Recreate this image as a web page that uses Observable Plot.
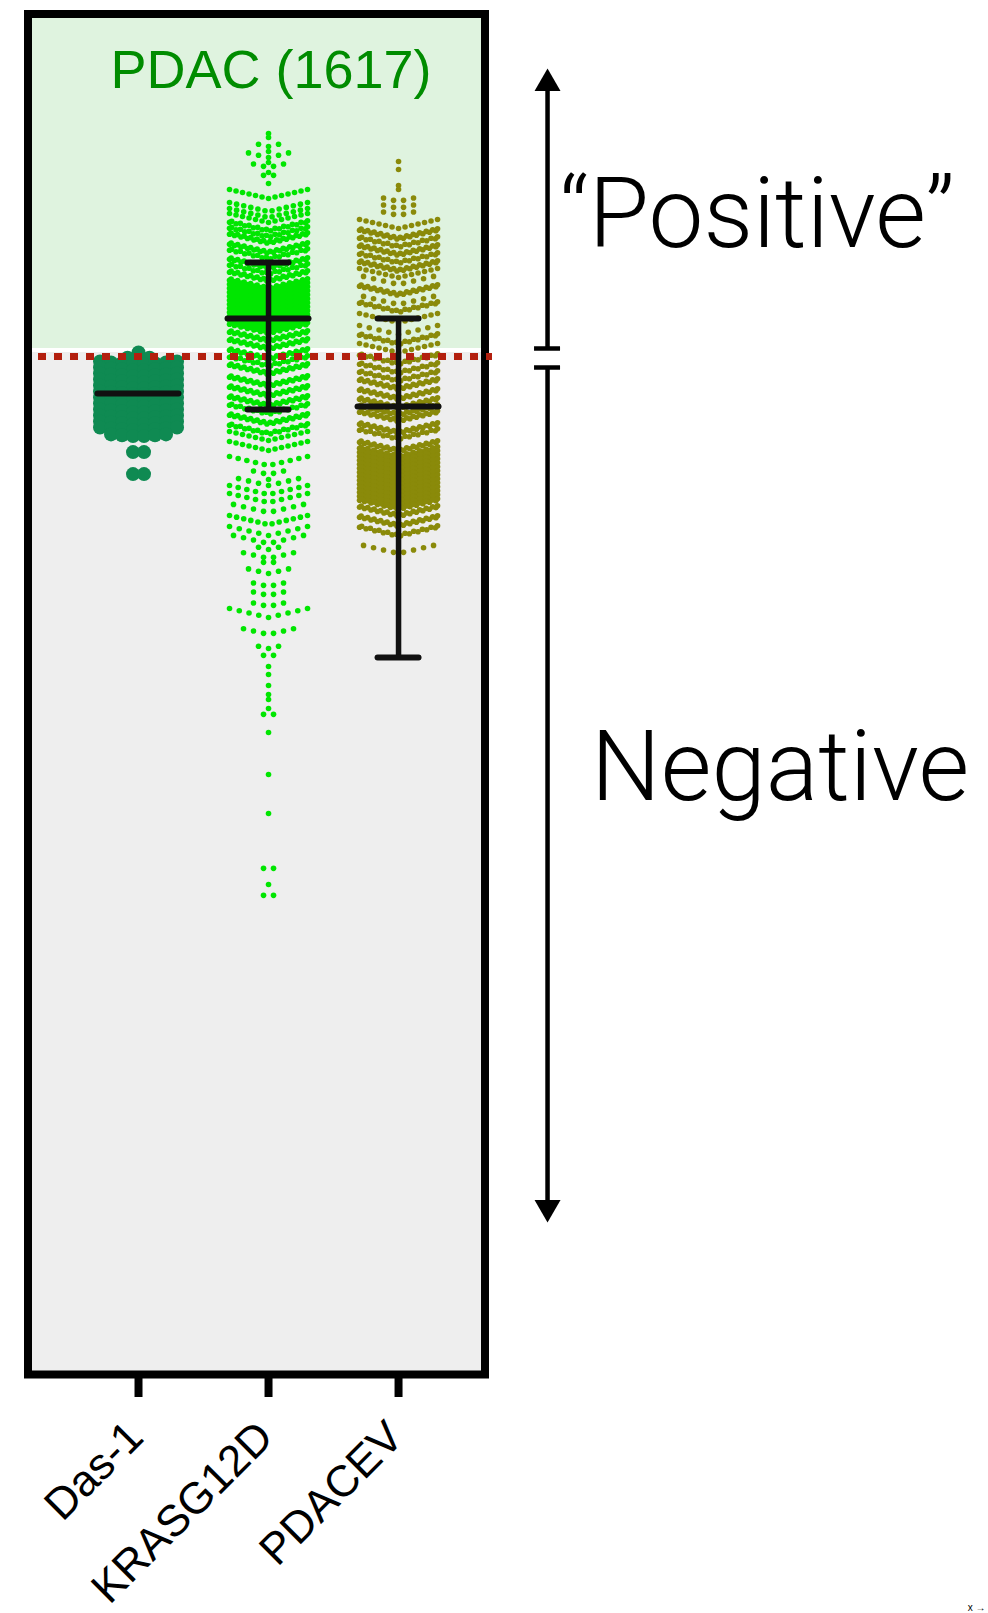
<!DOCTYPE html>
<html>
<head>
<meta charset="utf-8">
<script src="https://cdn.jsdelivr.net/npm/d3@7"></script>
<script src="https://cdn.jsdelivr.net/npm/@observablehq/plot@0.6"></script>
<style>
  html, body { margin: 0; padding: 0; background: #ffffff; }
  #chart svg { display: block; }
</style>
</head>
<body>
<div id="chart"></div>
<script>
// ---------------- DATA ----------------
const categories = ["Das-1", "KRASG12D", "PDACEV"];
const title = "PDAC (1617)";
const threshold = 0; // score cut-off (dotted line)

// dot rows: [score, number of dots in that row]
const das1Rows = [
  [0.4, 1], [-0.2, 3], [-0.8, 8], [-1.4, 8], [-2.0, 8], [-2.6, 8], [-3.2, 8],
  [-3.8, 8], [-4.4, 8], [-5.0, 8], [-5.6, 8], [-6.2, 8], [-6.8, 8], [-7.4, 8],
  [-8.0, 6], [-9.6, 2], [-11.8, 2]
];

const krasRows = [
  [22.3, 1], [21.9, 1], [21.0, 3], [20.5, 1], [19.9, 5], [19.4, 1], [18.9, 4],
  [18.4, 1], [18.0, 2], [17.3, 1],
  [15.8, 13], [14.5, 12], [13.9, 12], [13.4, 13], [12.6, 20], [12.0, 20],
  [11.4, 26], [10.4, 26], [9.8, 20], [8.9, 26], [8.3, 20], [7.6, 26],
  [6.8, 26], [6.4, 26], [6.0, 26], [5.6, 26], [5.2, 26], [4.8, 26], [4.4, 26],
  [4.0, 26], [3.6, 26], [3.2, 26], [2.8, 26], [2.4, 26], [1.6, 26], [0.8, 26],
  [-0.2, 26], [-0.9, 20], [-1.7, 26], [-2.9, 26], [-3.9, 26], [-4.9, 26],
  [-5.7, 20], [-6.7, 26], [-7.7, 20], [-8.4, 13], [-9.4, 13],
  [-10.9, 10], [-11.8, 4], [-12.3, 1], [-12.9, 7], [-13.8, 10], [-14.6, 10],
  [-15.6, 8], [-16.8, 12], [-17.9, 9], [-18.7, 8], [-19.3, 3], [-20.2, 6],
  [-20.7, 2], [-21.7, 5], [-23.0, 4], [-23.9, 4], [-25.0, 4], [-26.1, 9],
  [-27.8, 6], [-29.2, 3], [-30.0, 2], [-31.0, 1], [-31.8, 1], [-32.9, 1],
  [-33.8, 1], [-34.3, 1], [-35.2, 1], [-35.9, 2], [-37.6, 1], [-41.8, 1],
  [-45.7, 1], [-51.3, 2], [-52.8, 1], [-54.0, 2]
];

const pdacevRows = [
  [19.5, 1], [18.7, 1], [17.1, 1], [16.7, 1], [15.5, 4], [14.8, 4], [14.1, 4],
  [12.8, 13], [11.8, 26], [11.0, 20], [10.2, 26], [9.4, 20], [8.6, 26],
  [7.9, 13], [7.2, 8], [6.2, 26], [5.2, 8], [4.5, 20], [3.4, 13], [2.2, 9],
  [1.3, 20], [0.4, 13], [-0.7, 20], [-1.6, 20], [-2.4, 20], [-3.2, 26],
  [-4.2, 26], [-5.1, 26], [-5.8, 26], [-6.4, 26], [-7.6, 26], [-8.2, 20],
  [-9.4, 26], [-10.0, 26], [-10.4, 26], [-10.8, 26], [-11.2, 26], [-11.6, 26],
  [-12.0, 26], [-12.4, 26], [-12.8, 26], [-13.2, 26], [-13.6, 26], [-14.0, 26],
  [-14.4, 26], [-14.8, 26], [-15.2, 26], [-15.9, 26], [-16.9, 26], [-17.9, 20],
  [-19.7, 8]
];

// summary lines (centre line and whiskers)
const centerValues = [-3.7, 3.8, -5.0];
const upperValues = [null, 9.4, 3.8];
const lowerValues = [null, -5.3, -30.1];

// annotation texts
const positiveLabel = "\u201CPositive\u201D";
const negativeLabel = "Negative";

// ---------------- LAYOUT / STYLE ----------------
const plotWidth = 988, plotHeight = 1613;
const marginLeft = 27.5, marginRight = 503.5, marginTop = 13.5, marginBottom = 239;
const xDomain = [0.15, 3.665];
const yDomain = [-101.8, 34.25];
const xPerPx = (xDomain[1] - xDomain[0]) / (plotWidth - marginLeft - marginRight);
const yPerPx = (yDomain[1] - yDomain[0]) / (plotHeight - marginTop - marginBottom);

const swarmStyles = [
  {r: 7,   maxOff: 39, spacing: 11, rise: 3, perRow: 8,  stack: 0,   fill: "#0f8a52"},
  {r: 2.8, maxOff: 39, spacing: 10, rise: 9, perRow: 13, stack: 1.6, fill: "#00e600"},
  {r: 2.8, maxOff: 39, spacing: 10, rise: 9, perRow: 13, stack: 1.6, fill: "#8a8a0a"}
];

// spread each row's dots sideways (Prism-like scatter-dot layout)
function swarm(rows, index, s) {
  const out = [];
  for (const [value, count] of rows) {
    const k = Math.ceil(count / s.perRow);
    let left = count;
    for (let j = 0; j < k; j++) {
      const m = Math.ceil(left / (k - j));
      left -= m;
      const sp = m > 1 ? Math.min(s.spacing, (2 * s.maxOff) / (m - 1)) : 0;
      const shift = k > 1 ? ((j % 2) - 0.5) * sp / 2 : 0;
      const lift = (j - (k - 1) / 2) * s.stack;
      for (let i = 0; i < m; i++) {
        let off = (i - (m - 1) / 2) * sp + shift;
        off = Math.max(-s.maxOff, Math.min(s.maxOff, off));
        out.push({
          x: index + off * xPerPx,
          y: value + (s.rise * Math.abs(off) / s.maxOff + lift) * yPerPx
        });
      }
    }
  }
  return out;
}

const allRows = [das1Rows, krasRows, pdacevRows];
const swarmData = allRows.map((rows, i) => swarm(rows, i + 1, swarmStyles[i]));

const stats = categories.map((c, i) => ({x: i + 1, mid: centerValues[i], hi: upperValues[i], lo: lowerValues[i]}));
const barred = stats.filter(d => d.hi != null);
const capHalf = 20.5 * xPerPx, meanHalf = 40.5 * xPerPx;

// annotation positions (score units / x units)
const annoX = 4.146;
const arrowUp = {tip: 27.3, from: threshold + 0.8};
const arrowDown = {tip: -85.1, from: threshold - 1.1};
const breakHalf = 13 * xPerPx;
const titleItems = [{label: title, x: 2.019, y: 26.9}];
const bigLabels = [
  {label: positiveLabel, x: 4.238, y: 11.0},
  {label: negativeLabel, x: 4.481, y: -44.3}
];

const ink = "#111111";
const lightFont = "'Helvetica Neue', Roboto, Lato, 'Liberation Sans', sans-serif";

const chart = Plot.plot({
  width: plotWidth,
  height: plotHeight,
  marginLeft, marginRight, marginTop, marginBottom,
  x: {type: "linear", domain: xDomain, axis: null},
  y: {type: "linear", domain: yDomain, axis: null},
  style: {fontFamily: "'Liberation Sans', Arial, Helvetica, sans-serif", background: "#ffffff", overflow: "visible"},
  marks: [
    // background zones
    Plot.rect([0], {x1: xDomain[0], x2: xDomain[1], y1: threshold + 0.8, y2: yDomain[1], fill: "#dff3df"}),
    Plot.rect([0], {x1: xDomain[0], x2: xDomain[1], y1: yDomain[0], y2: threshold + 0.4, fill: "#eeeeee"}),
    // dots
    ...swarmData.map((d, i) => Plot.dot(d, {x: "x", y: "y", r: swarmStyles[i].r, fill: swarmStyles[i].fill})),
    // frame
    Plot.frame({stroke: "#000000", strokeWidth: 8}),
    // cut-off
    Plot.ruleY([threshold], {stroke: "#b3200f", strokeWidth: 7, strokeDasharray: "8,8", insetLeft: 10.5, insetRight: -7.5}),
    // whiskers
    Plot.ruleX(barred, {x: "x", y1: "lo", y2: "hi", stroke: ink, strokeWidth: 5.5}),
    Plot.ruleY(barred, {y: "hi", x1: d => d.x - capHalf, x2: d => d.x + capHalf, stroke: ink, strokeWidth: 6, strokeLinecap: "round"}),
    Plot.ruleY(barred, {y: "lo", x1: d => d.x - capHalf, x2: d => d.x + capHalf, stroke: ink, strokeWidth: 6, strokeLinecap: "round"}),
    Plot.ruleY(stats, {y: "mid", x1: d => d.x - meanHalf, x2: d => d.x + meanHalf, stroke: ink, strokeWidth: 6, strokeLinecap: "round"}),
    // x axis
    Plot.axisX({ticks: [1, 2, 3], tickSize: 23, strokeWidth: 8, stroke: "#000", text: null}),
    Plot.axisX({ticks: [1, 2, 3], tickSize: 0, tickPadding: 55, dx: -3, tickRotate: -45, fontSize: 44,
      tickFormat: d => categories[d - 1], label: null, fill: "#000"}),
    // title
    Plot.text(titleItems, {x: "x", y: "y", text: "label", fontSize: 54, fill: "#008c00", textAnchor: "middle", lineAnchor: "bottom"}),
    // annotation arrows
    Plot.ruleX([arrowUp], {x: annoX, y1: "from", y2: "tip", stroke: "#000", strokeWidth: 4.5}),
    Plot.ruleX([arrowDown], {x: annoX, y1: "from", y2: "tip", stroke: "#000", strokeWidth: 4.5}),
    Plot.ruleY([arrowUp.from, arrowDown.from], {y: d => d, x1: annoX - breakHalf, x2: annoX + breakHalf, stroke: "#000", strokeWidth: 4.5}),
    Plot.dot([arrowUp], {x: annoX, y: "tip", symbol: "triangle", r: 9.65, fill: "#000", stroke: null}),
    Plot.dot([arrowDown], {x: annoX, y: "tip", symbol: "triangle", r: 9.65, fill: "#000", stroke: null, rotate: 180}),
    Plot.text(bigLabels, {x: "x", y: "y", text: "label", fontSize: 98, fontWeight: 300, fontFamily: lightFont,
      fill: "#000", textAnchor: "start", lineAnchor: "bottom"})
  ]
});

document.getElementById("chart").appendChild(chart);
</script>
</body>
</html>
